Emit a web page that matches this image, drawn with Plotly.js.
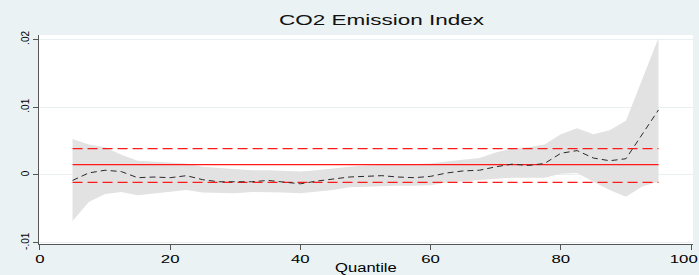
<!DOCTYPE html>
<html>
<head>
<meta charset="utf-8">
<script src="https://cdn.plot.ly/plotly-3.0.1.min.js"></script>
<style>
  html, body { margin: 0; padding: 0; background: #EAF2F3; overflow: hidden; }
  #chart { width: 699px; height: 275px; }
</style>
</head>
<body>
<div id="chart"></div>
<script>
// Quantiles (x)
const quantiles = [5, 7.5, 10, 12.5, 15, 17.5, 20, 22.5, 25, 27.5, 30, 32.5, 35, 37.5, 40, 42.5, 45, 47.5, 50,
  52.5, 55, 57.5, 60, 62.5, 65, 67.5, 70, 72.5, 75, 77.5, 80, 82.5, 85, 87.5, 90, 92.5, 95];
// Quantile regression coefficient (dashed black line)
const qrCoef = [-0.0008, 0.0003, 0.0007, 0.0005, -0.0004, -0.0003, -0.0004, -0.0001, -0.0007, -0.0010,
  -0.0010, -0.0010, -0.0008, -0.0010, -0.0013, -0.0009, -0.0006, -0.0003, -0.0002, -0.0001, -0.0003,
  -0.0004, -0.0002, 0.0003, 0.0006, 0.0007, 0.0012, 0.0016, 0.0014, 0.0017, 0.0032, 0.0036, 0.0025,
  0.0021, 0.0024, 0.0060, 0.0096];
// Confidence band lower / upper
const qrLower = [-0.0068, -0.0040, -0.0028, -0.0025, -0.0030, -0.0027, -0.0025, -0.0022, -0.0026, -0.0027,
  -0.0027, -0.0025, -0.0025, -0.0026, -0.0027, -0.0025, -0.0022, -0.0018, -0.0017, -0.0016, -0.0016,
  -0.0016, -0.0015, -0.0011, -0.0009, -0.0007, -0.0005, -0.0004, -0.0004, -0.0004, 0.0002, 0.0003,
  -0.0010, -0.0022, -0.0032, -0.0017, -0.0010];
const qrUpper = [0.0053, 0.0045, 0.0041, 0.0030, 0.0021, 0.0020, 0.0018, 0.0017, 0.0012, 0.0010,
  0.0008, 0.0007, 0.0007, 0.0006, 0.0005, 0.0007, 0.0010, 0.0012, 0.0014, 0.0015, 0.0015,
  0.0016, 0.0017, 0.0020, 0.0022, 0.0025, 0.0033, 0.0039, 0.0041, 0.0045, 0.0060, 0.0069,
  0.0060, 0.0066, 0.0080, 0.0140, 0.0202];
// OLS estimate and its confidence interval (red lines)
const olsCoef = 0.00152;
const olsLow = -0.00108;
const olsHigh = 0.0039;
// Axis ticks
const xTickVals = [0, 20, 40, 60, 80, 100];
const yTickVals = [-0.01, 0, 0.01, 0.02];
const yTickText = ['-.01', '0', '.01', '.02'];

const qMin = quantiles[0], qMax = quantiles[quantiles.length - 1];
const FONT = 'Liberation Sans, Arial, Helvetica, sans-serif';

const traces = [
  { x: quantiles, y: qrLower, type: 'scatter', mode: 'lines', line: { width: 0, color: 'rgba(0,0,0,0)' },
    hoverinfo: 'skip', showlegend: false },
  { x: quantiles, y: qrUpper, type: 'scatter', mode: 'lines', fill: 'tonexty', fillcolor: '#E2E2E2',
    line: { width: 0, color: 'rgba(0,0,0,0)' }, hoverinfo: 'skip', showlegend: false },
  { x: [qMin, qMax], y: [olsCoef, olsCoef], type: 'scatter', mode: 'lines',
    line: { color: '#FF1A1A', width: 1.2 }, showlegend: false },
  { x: [qMin, qMax], y: [olsHigh, olsHigh], type: 'scatter', mode: 'lines',
    line: { color: '#FF1A1A', width: 1.3, dash: '10px,5px' }, showlegend: false },
  { x: [qMin, qMax], y: [olsLow, olsLow], type: 'scatter', mode: 'lines',
    line: { color: '#FF1A1A', width: 1.3, dash: '10px,5px' }, showlegend: false },
  { x: quantiles, y: qrCoef, type: 'scatter', mode: 'lines',
    line: { color: '#2A2A2A', width: 1, dash: '6px,4px' }, showlegend: false }
];

const layout = {
  width: 699, height: 275,
  margin: { l: 39, r: 6, t: 35, b: 31, pad: 0 },
  paper_bgcolor: '#EAF2F3',
  plot_bgcolor: '#FFFFFF',
  font: { family: FONT, color: '#000000' },
  title: { text: 'CO2 Emission Index', font: { family: FONT, size: 15, color: '#111111' },
    x: 0.524, xanchor: 'center', xref: 'paper', y: 1 - 19.5 / 275, yanchor: 'middle', yref: 'container' },
  xaxis: {
    range: [-0.15, 100.3], tickvals: xTickVals, ticks: 'outside', ticklen: 5, tickwidth: 1,
    tickcolor: '#555555', showline: true, linecolor: '#555555', linewidth: 1.3,
    showgrid: false, zeroline: false, tickfont: { family: FONT, size: 10.5, color: '#000' },
    ticklabeloverflow: 'allow',
    title: { text: 'Quantile', font: { family: FONT, size: 12, color: '#000' }, standoff: 0 },
    automargin: false
  },
  yaxis: {
    range: [-0.01018, 0.02065], tickvals: yTickVals, ticktext: yTickText, tickangle: -90,
    ticks: 'outside', ticklen: 5, tickwidth: 1, tickcolor: '#555555',
    showline: true, linecolor: '#555555', linewidth: 1.3,
    showgrid: true, gridcolor: '#E8F0F2', gridwidth: 1, zeroline: false,
    tickfont: { family: FONT, size: 10, color: '#000' }, automargin: false
  },
  showlegend: false
};

function stretch(sel, s) {
  document.querySelectorAll(sel).forEach(function (el) {
    const bb = el.getBBox();
    const cx = bb.x + bb.width / 2;
    const t = el.getAttribute('transform') || '';
    el.setAttribute('transform', t + ' translate(' + cx + ',0) scale(' + s + ',1) translate(' + (-cx) + ',0)');
    // keep the text fully inside the 699px picture
    const r = el.getBoundingClientRect();
    if (r.right > 698) {
      const dx = (r.right - 698) / s;
      el.setAttribute('transform', el.getAttribute('transform') + ' translate(' + (-dx) + ',0)');
    }
  });
}

Plotly.newPlot('chart', traces, layout, { displayModeBar: false, staticPlot: true }).then(function () {
  stretch('.gtitle', 1.5);
  stretch('.xtitle', 1.38);
  stretch('.xtick text', 1.6);
});
</script>
</body>
</html>
